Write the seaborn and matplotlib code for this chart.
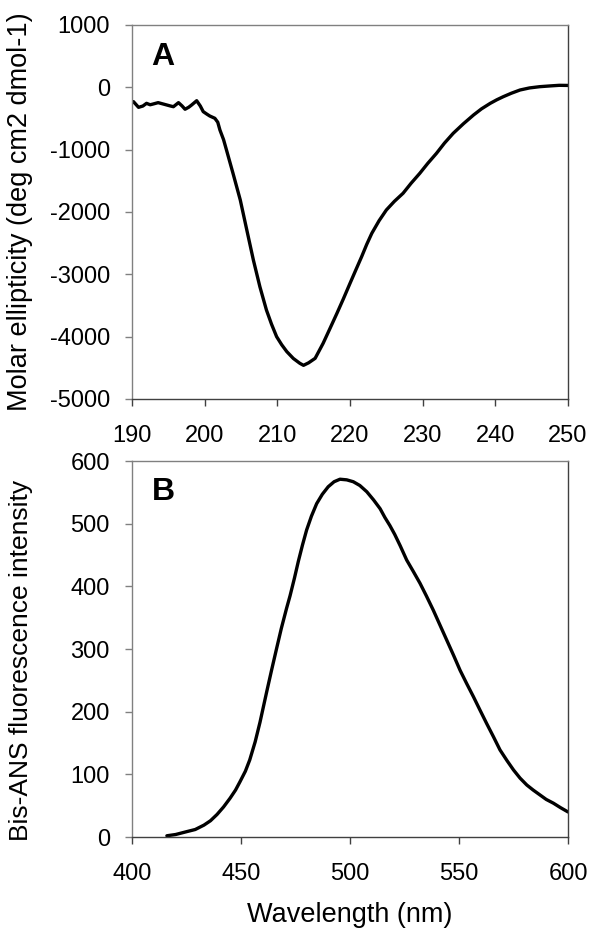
import matplotlib
matplotlib.use("Agg")
import matplotlib.pyplot as plt
import numpy as np
import pandas as pd
import seaborn as sns

# Panel A: CD spectrum (wavelength nm, molar ellipticity)
cd_wavelength = [190.0, 190.2, 190.9, 191.5, 192.0, 192.5, 192.9, 193.6, 194.2, 194.8,
                 195.3, 195.7, 196.4, 196.9, 197.3, 197.8, 198.2, 198.9, 199.4, 199.8,
                 200.3, 200.7, 201.4, 201.8, 202.1, 202.6, 203.0, 203.9, 204.9, 205.8,
                 206.7, 207.6, 208.5, 209.2, 209.9, 210.6, 211.3, 212.2, 213.1, 213.6,
                 214.3, 215.2, 216.3, 217.2, 218.2, 219.1, 220.0, 220.8, 221.6, 222.3,
                 223.0, 224.0, 225.0, 226.1, 227.3, 228.4, 229.6, 230.7, 231.9, 233.0,
                 234.2, 235.6, 237.0, 238.1, 239.3, 240.2, 241.1, 242.2, 243.4, 244.7,
                 246.1, 247.5, 248.8, 250.0]
cd_ellipticity = [-250, -230, -321, -300, -257, -280, -268, -246, -265, -284,
                  -300, -311, -246, -300, -352, -320, -284, -215, -300, -390,
                  -430, -460, -497, -560, -685, -840, -1005, -1380, -1808, -2290,
                  -2770, -3200, -3573, -3800, -4000, -4130, -4240, -4350, -4428, -4460,
                  -4420, -4348, -4107, -3880, -3626, -3390, -3145, -2930, -2717, -2520,
                  -2342, -2140, -1968, -1830, -1700, -1540, -1380, -1220, -1059, -895,
                  -738, -585, -444, -345, -257, -200, -150, -95, -43, -10,
                  10, 22, 32, 30]

# Panel B: bis-ANS fluorescence emission
fl_wavelength = [416, 420, 425, 429, 433, 436, 439, 442, 445, 447.5, 449.5, 452, 454, 456.5,
                 458.7, 461.8, 464, 466.4, 468.5, 470.9, 472.5, 474.5, 476.3, 478.2, 480.1,
                 482.3, 484.7, 487.3, 490, 492.7, 495.4, 498.5, 501.5, 504.5, 507.7, 510.8,
                 513.8, 516, 518.3, 520.5, 523, 526, 529, 532.1, 535, 538.2, 541.3,
                 544.4, 547.5, 550.5, 553.5, 556.6, 559.7, 562.7, 565.8, 568.8, 572,
                 575, 578, 581.1, 584, 587.2, 590, 593.3, 596.5, 600]
fl_intensity = [2, 4, 8.5, 12, 19, 26, 36, 48, 62, 75, 88, 105, 123, 152,
                183, 232, 266, 302, 333, 365, 385, 413, 440, 466, 490,
                512, 532, 547, 559, 567, 571, 570, 567, 561, 551, 538,
                524, 510, 497, 483, 465, 442, 424, 405, 385, 362, 338,
                314, 290, 266, 245, 224, 202, 181, 160, 139, 122,
                107, 94, 83, 75, 67, 60, 54, 47, 40]

cd = pd.DataFrame({"wavelength": cd_wavelength, "ellipticity": cd_ellipticity})
fl = pd.DataFrame({"wavelength": fl_wavelength, "intensity": fl_intensity})

sns.set_style("ticks")
plt.rcParams["font.family"] = ["Liberation Sans", "DejaVu Sans"]
plt.rcParams["axes.unicode_minus"] = False
plt.rcParams["text.color"] = "black"
plt.rcParams["axes.labelcolor"] = "black"
plt.rcParams["xtick.color"] = "black"
plt.rcParams["ytick.color"] = "black"

fig = plt.figure(figsize=(6, 9.39), dpi=100)
ax1 = fig.add_axes([0.22, 0.5751, 0.7267, 0.3983])
ax2 = fig.add_axes([0.22, 0.1086, 0.7267, 0.4004])

sns.lineplot(data=cd, x="wavelength", y="ellipticity", ax=ax1, color="black", lw=2.4)
sns.lineplot(data=fl, x="wavelength", y="intensity", ax=ax2, color="black", lw=2.4)

ax1.set_xlim(190, 250)
ax1.set_ylim(-5000, 1000)
ax1.set_xticks(range(190, 251, 10))
ax1.set_yticks(range(-5000, 1001, 1000))
ax1.set_xlabel("")
ax1.set_ylabel("Molar ellipticity (deg cm2 dmol-1)", fontsize=19.5)
ax1.yaxis.set_label_coords(-0.227, 0.5)
ax1.text(0.045, 0.915, "A", transform=ax1.transAxes, fontsize=23, fontweight="bold",
         va="center", ha="left")

ax2.set_xlim(400, 600)
ax2.set_ylim(0, 600)
ax2.set_xticks(range(400, 601, 50))
ax2.set_yticks(range(0, 601, 100))
ax2.set_xlabel("Wavelength (nm)", fontsize=19.5, labelpad=12)
ax2.set_ylabel("Bis-ANS fluorescence intensity", fontsize=19)
ax2.yaxis.set_label_coords(-0.227, 0.47)
ax2.text(0.045, 0.918, "B", transform=ax2.transAxes, fontsize=23, fontweight="bold",
         va="center", ha="left")

for ax in (ax1, ax2):
    for side in ("left", "top"):
        ax.spines[side].set_color("#808080")
    for side in ("right", "bottom"):
        ax.spines[side].set_color("#404040")
    for s in ax.spines.values():
        s.set_visible(True)
        s.set_linewidth(1)
    ax.tick_params(axis="both", direction="out", length=5, width=1, labelsize=17)
    ax.tick_params(axis="y", pad=11, color="#808080")
    ax.tick_params(axis="x", pad=14, color="#404040")

fig.savefig("out.png", dpi=100)
